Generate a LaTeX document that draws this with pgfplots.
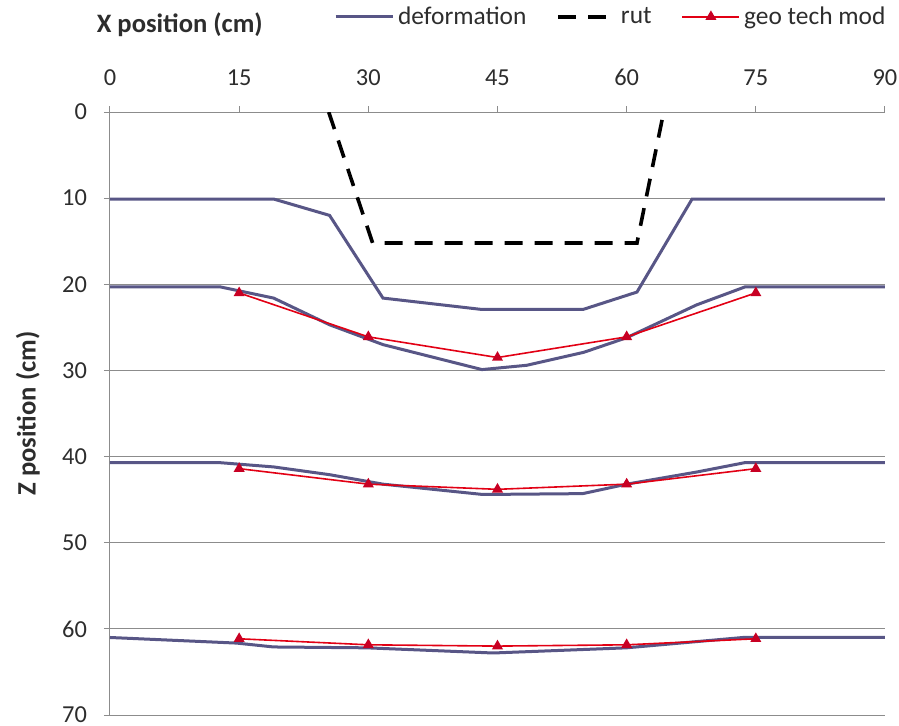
\documentclass[border=0pt]{standalone}
\usepackage{pgfplots}
\pgfplotsset{compat=1.18}
\usepackage{fontspec}
\setmainfont{Carlito}
\definecolor{deform}{RGB}{88,86,134}
\definecolor{geored}{RGB}{226,0,20}
\definecolor{geomark}{RGB}{200,0,35}
\definecolor{gridgray}{RGB}{140,140,140}
\definecolor{txt}{RGB}{45,45,45}
\begin{document}
\begin{tikzpicture}
\path[use as bounding box] (-55pt,-5pt) rectangle (394.5pt,357.5pt);
\begin{axis}[
  scale only axis,
  width=387.5pt, height=301.5pt,
  xmin=0, xmax=90, ymin=0, ymax=70,
  y dir=reverse,
  axis x line*=top, axis y line*=left,
  xtick={0,15,...,90}, ytick={0,10,...,70},
  ymajorgrids,
  grid style={gridgray, line width=0.5pt},
  axis line style={gridgray, line width=0.5pt},
  tick style={gridgray, line width=0.5pt},
  tick align=outside, major tick length=3pt,
  /pgf/number format/assume math mode=true,
  ticklabel style={font=\fontsize{12.2}{14}\selectfont, text=txt},
  xticklabel style={yshift=6.5pt},
  yticklabel style={xshift=-5pt},
  xlabel={\textbf{X position (cm)}},
  ylabel={\textbf{Z position (cm)}},
  label style={font=\fontsize{13.3}{15}\selectfont, text=txt},
  xlabel style={at={(axis description cs:0.09,1.145)}, anchor=center},
  ylabel style={at={(axis description cs:-0.106,0.5)}, anchor=center},
  legend columns=3,
  legend style={at={(axis description cs:1.014,1.158)}, anchor=east,
    draw=none, fill=none, font=\fontsize{12.7}{14}\selectfont, text=txt,
    /tikz/every even column/.append style={column sep=13pt}},
  legend image code/.code={\draw[mark repeat=2,mark phase=2] plot coordinates {(0cm,0cm) (0.5cm,0cm) (1cm,0cm)};},
]
% deformation
\addplot[deform, line width=1.5pt] coordinates {(0,10.1) (19,10.1) (25.5,12.0) (31.7,21.6) (43,22.9) (55,22.9) (61.2,20.9) (67.6,10.1) (90,10.1)};
\addlegendentry{deformation}
\addplot[deform, line width=1.5pt, forget plot] coordinates {(0,20.3) (12.8,20.3) (19,21.6) (25.5,24.7) (31.7,27.0) (43.2,29.9) (48.4,29.4) (55,27.9) (60,26.2) (68.1,22.4) (73.75,20.3) (90,20.3)};
\addplot[deform, line width=1.5pt, forget plot] coordinates {(0,40.7) (12.7,40.7) (19,41.2) (25.5,42.1) (31.7,43.2) (43.3,44.4) (54.9,44.3) (60,43.2) (68.1,41.8) (73.75,40.7) (90,40.7)};
\addplot[deform, line width=1.5pt, forget plot] coordinates {(0,61.0) (14.7,61.65) (19,62.1) (29.8,62.2) (44.5,62.8) (60,62.2) (73.5,61.0) (90,61.0)};
% rut
\addplot[black, line width=1.8pt, dash pattern=on 9pt off 6pt] coordinates {(25.4,0) (30.5,15.2) (61.2,15.2) (64.3,0)};
\addlegendentry{rut}
% geo tech mod
\addplot[geored, line width=0.8pt, mark=triangle*, mark size=2.4pt, mark options={solid, fill=geomark, draw=geomark}] coordinates {(15,21.0) (30,26.1) (45,28.5) (60,26.1) (75,21.0)};
\addlegendentry{geo tech mod}
\addplot[geored, line width=0.8pt, mark=triangle*, mark size=2.4pt, mark options={solid, fill=geomark, draw=geomark}, forget plot] coordinates {(15,41.4) (30,43.2) (45,43.8) (60,43.2) (75,41.4)};
\addplot[geored, line width=0.8pt, mark=triangle*, mark size=2.4pt, mark options={solid, fill=geomark, draw=geomark}, forget plot] coordinates {(15,61.15) (30,61.85) (45,62.0) (60,61.85) (75,61.15)};
\end{axis}
\end{tikzpicture}
\end{document}
